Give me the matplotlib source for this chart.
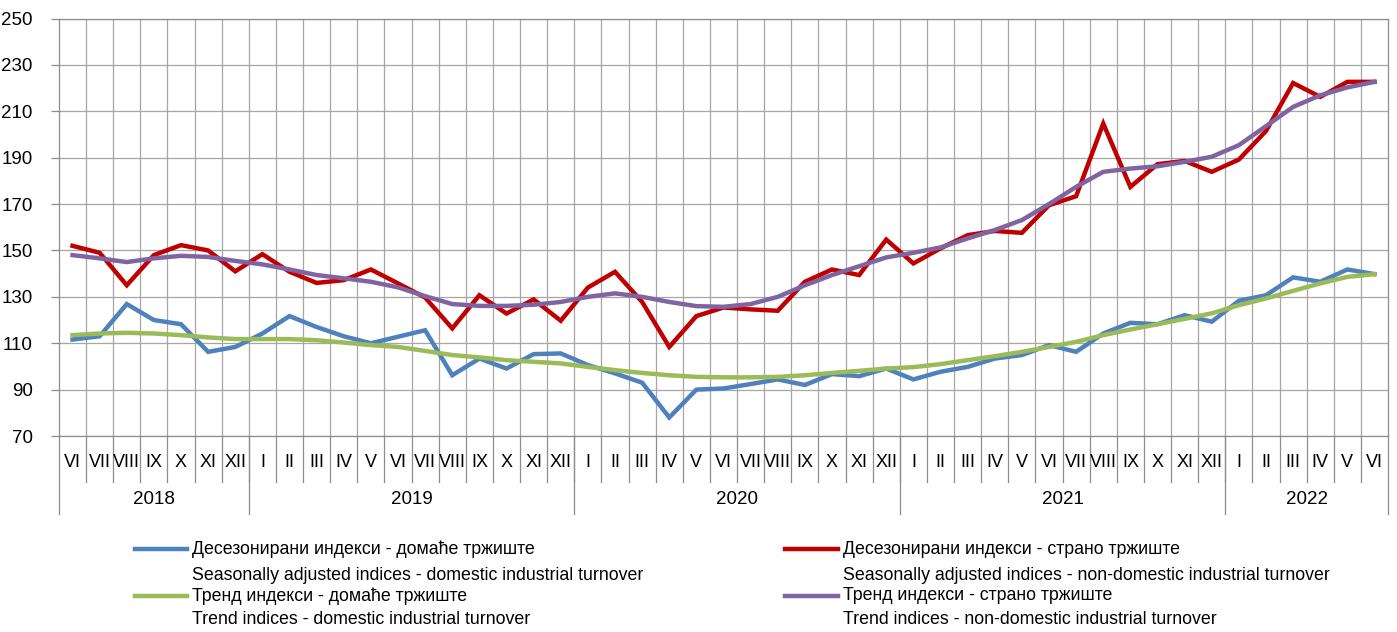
import numpy as np
import matplotlib
matplotlib.use("Agg")
import matplotlib.pyplot as plt
from matplotlib.lines import Line2D

plt.rcParams['font.family'] = ['Liberation Sans Narrow', 'Liberation Sans', 'DejaVu Sans']

months = ["VI", "VII", "VIII", "IX", "X", "XI", "XII",
          "I", "II", "III", "IV", "V", "VI", "VII", "VIII", "IX", "X", "XI", "XII",
          "I", "II", "III", "IV", "V", "VI", "VII", "VIII", "IX", "X", "XI", "XII",
          "I", "II", "III", "IV", "V", "VI", "VII", "VIII", "IX", "X", "XI", "XII",
          "I", "II", "III", "IV", "V", "VI"]
years = ["2018", "2019", "2020", "2021", "2022"]
year_counts = [7, 12, 12, 12, 6]

dom_sa = [111.6, 113, 126.9, 120, 118.2, 106.3, 108.4, 114.2, 121.7, 117, 113, 110,
          112.8, 115.6, 96.2, 103.4, 99.1, 105.3, 105.6, 100.6, 97, 93, 78, 90, 90.5,
          92.4, 94.4, 92, 96.7, 95.8, 99.1, 94.4, 97.7, 99.8, 103.4, 104.9, 109.2, 106.3,
          114.2, 118.8, 118.2, 122.1, 119.3, 128.3, 130.7, 138.4, 136.5, 141.8, 139.8]
for_sa = [152, 149, 135, 148, 152.3, 150, 141, 148.4, 140.8, 136, 137.2, 141.8,
          135.8, 129.7, 116.4, 130.7, 122.8, 128.9, 119.7, 134, 140.8, 127.8, 108.4, 121.7,
          125.4, 124.6, 124, 136.5, 141.8, 139.4, 154.7, 144.4, 150.9, 156.6, 158.4, 157.6,
          169.5, 173.4, 204.7, 177.4, 187.2, 188.6, 183.9, 189.2, 201.5, 222.2, 216.2, 222.7, 222.7]
dom_trend = [113.5, 114.2, 114.5, 114.2, 113.5, 112.5, 111.8, 111.8, 111.8, 111.3, 110.3, 109.2,
             108.4, 106.7, 104.9, 103.9, 102.7, 102, 101.3, 99.8, 98.4, 97.2, 96.2, 95.5, 95.3,
             95.3, 95.5, 96.2, 97.2, 98.1, 99.1, 99.7, 101, 102.7, 104.4, 106.3, 108.4, 110.6,
             113.5, 115.9, 118.2, 120.5, 122.9, 126.4, 129.3, 132.6, 135.8, 138.6, 139.8]
for_trend = [148, 146.6, 145, 146.6, 147.7, 147.2, 145.5, 144, 141.8, 139.4, 138, 136.5,
             134.1, 130.3, 126.9, 126.1, 126.1, 126.6, 127.8, 130, 131.5, 130, 127.8, 126, 125.7,
             126.9, 130, 135, 139.4, 143.2, 147, 149, 151.3, 155.2, 158.8, 163.1, 170, 177.4,
             183.9, 185.3, 186.3, 188.2, 190.4, 195.4, 203.6, 211.9, 216.9, 220.3, 222.7]

labels = [("Десезонирани индекси - домаће тржиште", "Seasonally adjusted indices - domestic industrial turnover"),
          ("Десезонирани индекси - страно тржиште", "Seasonally adjusted indices - non-domestic industrial turnover"),
          ("Тренд индекси - домаће тржиште", "Trend indices - domestic industrial turnover"),
          ("Тренд индекси - страно тржиште", "Trend indices - non-domestic industrial turnover")]
colors = ["#4f81bd", "#c00000", "#9bbb59", "#8064a2"]

fig = plt.figure(figsize=(13.97, 6.32), dpi=100)
ax = fig.add_axes([0.0422, 0.3101, 0.9514, 0.6606])

x = np.arange(len(months))
grid_c = "#a6a6a6"
for series, c in zip([dom_sa, for_sa, dom_trend, for_trend], colors):
    ax.plot(x, series, color=c, lw=3.2, solid_joinstyle="miter", zorder=3)

ax.set_xlim(-0.5, len(months) - 0.5)
ax.set_ylim(70, 250)
ax.set_yticks(np.arange(70, 251, 20))
ax.yaxis.grid(True, color=grid_c, lw=0.9)
for b in np.arange(0.5, len(months) - 1, 1):
    ax.axvline(b, color=grid_c, lw=0.9, zorder=1)
for s in ax.spines.values():
    s.set_color("#8c8c8c")
    s.set_linewidth(0.9)

fs = 12.8
ax.tick_params(axis="y", length=6, width=0.9, color="#8c8c8c", pad=13, labelsize=13.5)
ax.set_xticks(x)
ax.set_xticklabels([])
ax.tick_params(axis="x", length=0)

trans = ax.get_xaxis_transform()
for i, m in enumerate(months):
    ax.text(i, -0.064, m, transform=trans, ha="center", va="center", fontsize=13)
for b in np.arange(0.5, len(months) - 1, 1):
    ax.plot([b, b], [0, -0.11], transform=trans, color="#8c8c8c", lw=0.9, clip_on=False)

start = 0
for yr, n in zip(years, year_counts):
    ax.text(start - 0.5 + n / 2, -0.153, yr, transform=trans, ha="center", va="center", fontsize=13.5)
    ax.plot([start - 0.5, start - 0.5], [0, -0.187], transform=trans, color="#8c8c8c", lw=0.9, clip_on=False)
    start += n
ax.plot([start - 0.5, start - 0.5], [0, -0.187], transform=trans, color="#8c8c8c", lw=0.9, clip_on=False)

# legend built by hand: two columns, handle next to the first text line
W, H = 1397.0, 632.0
cols = [(135, 187, 192), (785, 838, 843)]
rows = [(549, 575), (596, 619)]
for k, ((l1, l2), c) in enumerate(zip(labels, colors)):
    x0, x1, xt = cols[k % 2]
    y1, y2 = rows[k // 2]
    fig.add_artist(Line2D([x0 / W, x1 / W], [1 - y1 / H, 1 - y1 / H], color=c, lw=3.2,
                          transform=fig.transFigure))
    fig.text(xt / W, 1 - y1 / H, l1, ha="left", va="center", fontsize=fs)
    fig.text(xt / W, 1 - y2 / H, l2, ha="left", va="center", fontsize=fs)

fig.savefig("out.png", dpi=100)
